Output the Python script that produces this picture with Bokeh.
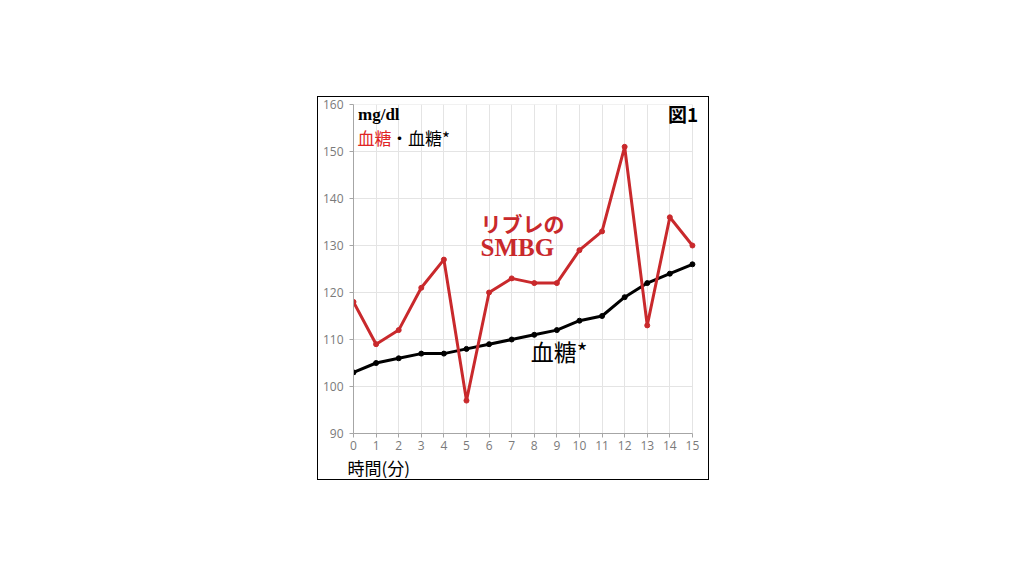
from bokeh.plotting import figure
from bokeh.models import Label, Spacer, ColumnDataSource, Range1d, FixedTicker
from bokeh.layouts import row, column
from bokeh.embed import file_html
from bokeh.resources import INLINE

minutes = list(range(16))
libre_smbg = [118, 109, 112, 121, 127, 97, 120, 123, 122, 122, 129, 133, 151, 113, 136, 130]
blood_sugar = [103, 105, 106, 107, 107, 108, 109, 110, 111, 112, 114, 115, 119, 122, 124, 126]
y_ticks = [90, 100, 110, 120, 130, 140, 150, 160]

RED = "#c9292c"
JP = "Noto Sans CJK JP"

p = figure(width=390, height=382, output_backend="svg", toolbar_location=None,
           x_range=Range1d(0, 15.49), y_range=Range1d(90, 160),
           min_border_left=35, min_border_right=5, min_border_top=7, min_border_bottom=46)
p.outline_line_color = None
p.styles = {"outline": "1.5px solid black"}

for ax in (p.xaxis[0], p.yaxis[0]):
    ax.axis_line_color = "#a6a6a6"
    ax.major_tick_line_color = "#a6a6a6"
    ax.major_tick_out = 4
    ax.major_tick_in = 0
    ax.minor_tick_line_color = None
    ax.major_label_text_color = "#7a7a7a"
    ax.major_label_text_font = "Open Sans"
    ax.major_label_text_font_size = "12px"
p.xaxis.ticker = FixedTicker(ticks=minutes)
p.yaxis.ticker = FixedTicker(ticks=y_ticks)
p.xaxis.bounds = (minutes[0], minutes[-1])
p.xaxis.major_label_standoff = 3
p.yaxis.major_label_standoff = 6
p.xgrid.ticker = FixedTicker(ticks=minutes)
p.xgrid.grid_line_color = "#e4e4e4"
p.ygrid.grid_line_color = None

# horizontal grid lines limited to the data span
n = len(y_ticks)
p.segment(x0=[minutes[0]] * n, x1=[minutes[-1]] * n, y0=y_ticks, y1=y_ticks,
          line_color="#e4e4e4", line_width=1)

# x-axis title
p.title.text = "時間(分)"
p.title_location = "below"
p.title.align = "left"
p.title.offset = -6
p.title.standoff = 0
p.title.text_font = JP
p.title.text_font_size = "17px"
p.title.text_font_style = "normal"
p.title.text_color = "black"

src = ColumnDataSource(dict(x=minutes, red=libre_smbg, black=blood_sugar))
p.line("x", "black", source=src, line_color="black", line_width=3)
p.scatter("x", "black", source=src, size=5, fill_color="black", line_color="black")
p.line("x", "red", source=src, line_color=RED, line_width=3)
p.scatter("x", "red", source=src, size=5, fill_color=RED, line_color=RED)

def lab(x, y, t, color="black", font=JP, size="16px", style="normal", align="left"):
    p.add_layout(Label(x=x, y=y, text=t, text_color=color, text_font=font,
                       text_font_size=size, text_font_style=style,
                       text_align=align, text_baseline="middle"))

lab(0.2, 157.9, "mg/dl", font="Liberation Serif", size="17px", style="bold")
lab(0.18, 152.9, "血糖", color="#e02424", size="17px")
lab(1.66, 152.9, "・血糖*", size="17px")
lab(15.26, 158.1, "図1", size="19px", style="bold", align="right")
lab(5.62, 134.8, "リブレの", color=RED, size="21px", style="bold")
lab(5.62, 129.5, "SMBG", color=RED, font="Liberation Serif", size="25px", style="bold")
lab(7.85, 107.6, "血糖*", size="23px")

layout = column(Spacer(height=97), row(Spacer(width=318), p))
open("out.html", "w").write(file_html(layout, INLINE))
